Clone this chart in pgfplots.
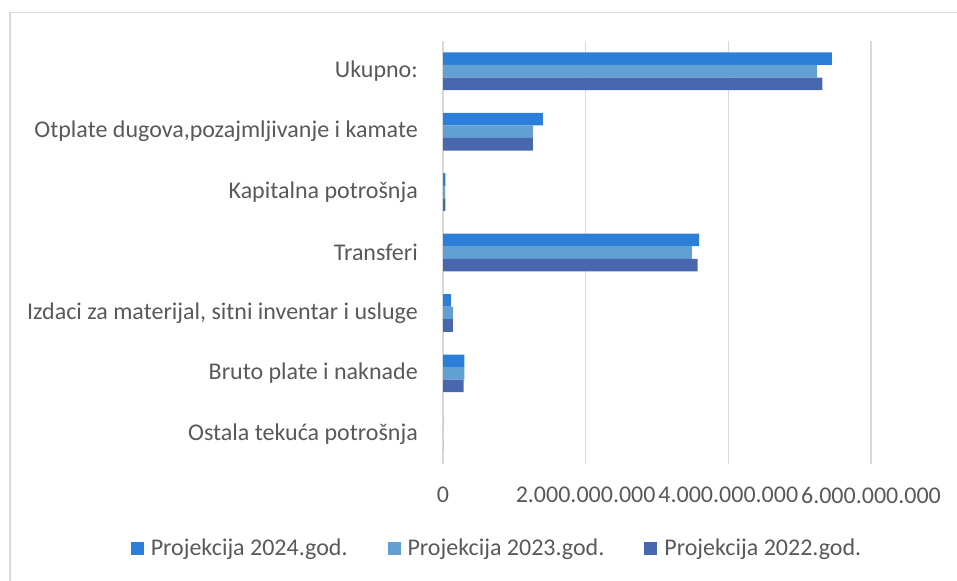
\documentclass[border=0pt]{standalone}
\usepackage{fontspec}
\setmainfont{Carlito}
\usepackage{pgfplots}
\pgfplotsset{compat=1.18}
\definecolor{cA}{RGB}{43,127,217}
\definecolor{cB}{RGB}{98,159,210}
\definecolor{cC}{RGB}{73,103,175}
\definecolor{txt}{RGB}{89,89,89}
\definecolor{grd}{RGB}{217,217,217}
\begin{document}
\begin{tikzpicture}
\path[use as bounding box] (0,0) rectangle (957bp,581bp);
\draw[grd, line width=1.5bp] (10bp,0) -- (10bp,568.5bp) -- (957bp,568.5bp);
\begin{axis}[
  at={(443bp,117bp)}, anchor=south west,
  scale only axis, width=428bp, height=423bp,
  xmin=0, xmax=6e9, ymin=-0.5, ymax=6.5,
  axis line style={draw=none},
  major tick length=0pt,
  scaled x ticks=false,
  xtick={0,2e9,4e9,6e9},
  xticklabels={0,2.000.000.000,4.000.000.000,6.000.000.000},
  ytick={0,1,2,3,4,5,6},
  yticklabels={{Ostala tekuća potrošnja},{Bruto plate i naknade},{Izdaci za materijal, sitni inventar i usluge},{Transferi},{Kapitalna potrošnja},{Otplate dugova,pozajmljivanje i kamate},{Ukupno:}},
  xmajorgrids, grid style={grd, line width=1.6bp},
  tick label style={text=txt, inner sep=0pt, font=\fontsize{24bp}{28bp}\selectfont},
  yticklabel style={anchor=east, xshift=-25bp},
  xticklabel style={anchor=north, yshift=-23bp},
  legend columns=3,
  legend cell align=left,
  legend style={at={(0.1238,-0.1986)}, anchor=center, draw=none, fill=none,
    inner sep=0pt, outer sep=0pt, text=txt,
    font=\fontsize{24bp}{28bp}\selectfont,
    nodes={inner sep=0pt},
    /tikz/every odd column/.append style={column sep=7bp},
    /tikz/every even column/.append style={column sep=40bp}},
  legend image code/.code={\draw[#1, draw=none] (0bp,-6.5bp) rectangle (13bp,6.5bp);},
]
\addplot[xbar, bar width=0.208, bar shift=0.208, fill=cA, draw=none]
  coordinates {(0,0) (0.30e9,1) (0.11e9,2) (3.59e9,3) (0.035e9,4) (1.40e9,5) (5.45e9,6)};
\addlegendentry{Projekcija 2024.god.}
\addplot[xbar, bar width=0.208, bar shift=0, fill=cB, draw=none]
  coordinates {(0,0) (0.30e9,1) (0.14e9,2) (3.49e9,3) (0.03e9,4) (1.26e9,5) (5.24e9,6)};
\addlegendentry{Projekcija 2023.god.}
\addplot[xbar, bar width=0.208, bar shift=-0.208, fill=cC, draw=none]
  coordinates {(0,0) (0.29e9,1) (0.14e9,2) (3.57e9,3) (0.035e9,4) (1.26e9,5) (5.32e9,6)};
\addlegendentry{Projekcija 2022.god.}
\end{axis}
\end{tikzpicture}
\end{document}
